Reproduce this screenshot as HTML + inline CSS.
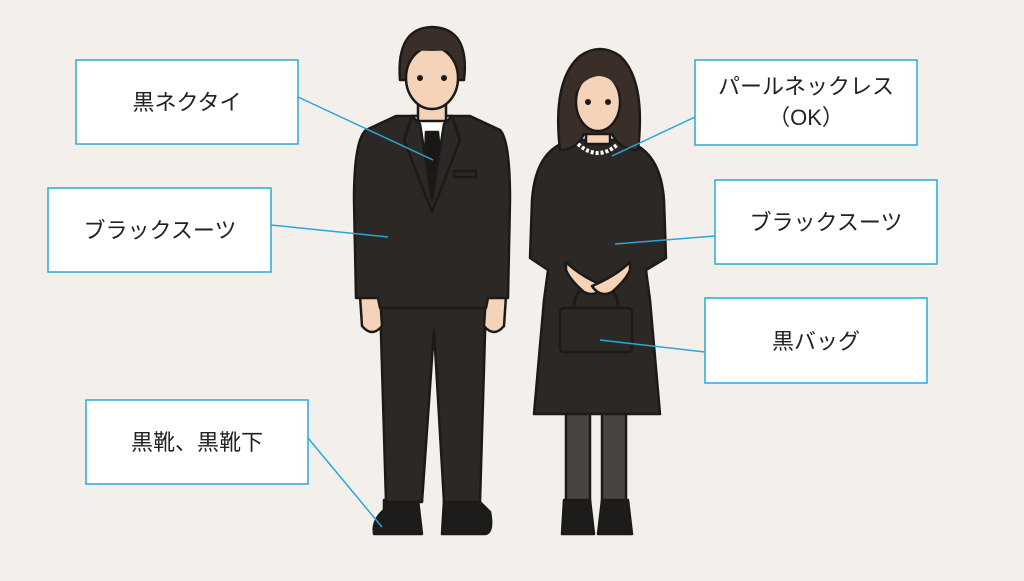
<!DOCTYPE html>
<html><head><meta charset="utf-8"><style>
body{margin:0;width:1024px;height:576px;overflow:hidden;background:#f3f0eb;font-family:"Liberation Sans","Noto Sans CJK JP",sans-serif}
</style></head><body>
<svg width="1024" height="576" viewBox="0 0 1024 576" xmlns="http://www.w3.org/2000/svg">
<rect width="1024" height="576" fill="#f3f0eb"/>
<g stroke="#1c1a18" stroke-width="2.5" stroke-linejoin="round">
<!-- man shoes -->
<path d="M384 500 L418 500 L422 534 L374 534 Q372 520 384 510Z" fill="#1e1c1a"/>
<path d="M444 500 L478 500 L490 512 Q494 534 484 534 L442 534Z" fill="#1e1c1a"/>
<!-- trousers -->
<path d="M380 300 L486 300 L480 502 L444 502 L434 330 L422 502 L386 502Z" fill="#2b2826"/>
<!-- hands -->
<path d="M360 296 L380 296 L382 326 Q372 338 362 326Z" fill="#f4d3b8"/>
<path d="M486 296 L506 296 L504 326 Q494 338 484 326Z" fill="#f4d3b8"/>
<!-- jacket -->
<path d="M396 116 L470 116 L500 130 Q510 140 510 200 L508 298 L488 298 L486 308 L380 308 L378 298 L356 298 L354 200 Q354 140 366 130Z" fill="#2b2826"/>
<path d="M412 116 L452 116 L446 160 L432 190 L418 160Z" fill="#fff"/>
<path d="M426 132 L438 132 L442 175 L432 195 L424 175Z" fill="#1a1817"/>
<path d="M412 116 L404 140 L432 212 L460 140 L452 116 L444 124 L432 200 L420 124Z" fill="#2b2826"/>
<rect x="454" y="171" width="22" height="6" fill="#2b2826"/>
<!-- neck head -->
<rect x="418" y="95" width="28" height="26" fill="#f4d3b8"/>
<path d="M400 80 Q396 28 432 27 Q470 28 464 80Z" fill="#3a2f28"/>
<ellipse cx="432" cy="78" rx="26" ry="31" fill="#f4d3b8"/>
<path d="M404 70 Q402 34 432 32 Q464 34 460 70 Q458 54 452 50 Q432 52 412 50 Q406 56 404 70Z" fill="#3a2f28" stroke="none"/>
<!-- woman legs shoes -->
<rect x="566" y="412" width="24" height="92" fill="#4a4440"/>
<rect x="602" y="412" width="24" height="92" fill="#4a4440"/>
<path d="M564 500 L590 500 L594 534 L562 534Z" fill="#1e1c1a"/>
<path d="M602 500 L628 500 L632 534 L598 534Z" fill="#1e1c1a"/>
<!-- dress -->
<path d="M574 140 L620 140 Q660 146 664 200 L666 258 L646 270 L650 300 L660 414 L534 414 L544 300 L548 270 L530 258 L532 200 Q536 146 574 140Z" fill="#2b2826"/>
<!-- bag -->
<path d="M574 308 Q574 286 596 286 Q618 286 618 308" fill="none"/>
<rect x="560" y="308" width="72" height="44" rx="4" fill="#2b2826"/>
<!-- hands -->
<path d="M566 262 Q580 276 604 286 Q596 298 584 292 Q570 280 566 270Z" fill="#f4d3b8"/>
<path d="M630 262 Q616 276 592 286 Q600 298 612 292 Q626 280 630 270Z" fill="#f4d3b8"/>
<!-- neck head hair -->
<rect x="586" y="118" width="24" height="26" fill="#f4d3b8"/>
<path d="M560 150 Q552 80 580 56 Q600 42 620 56 Q646 80 638 150 Q620 150 612 134 L584 134 Q576 150 560 150Z" fill="#3a2f28"/>
<ellipse cx="598" cy="102" rx="22" ry="29" fill="#f4d3b8"/>
<path d="M576 92 Q578 66 600 66 Q620 68 620 92 Q612 76 598 76 Q584 78 576 92Z" fill="#3a2f28" stroke="none"/>
</g>
<path d="M578 144 Q598 162 618 144" fill="none" stroke="#fff" stroke-width="4" stroke-dasharray="3 2"/>
<g fill="#1c1a18"><circle cx="420" cy="78" r="3"/><circle cx="444" cy="78" r="3"/><circle cx="588" cy="102" r="3"/><circle cx="608" cy="102" r="3"/></g>
<g stroke="#2aa8d8" stroke-width="1.5">
<line x1="298" y1="97" x2="433" y2="160"/>
<line x1="271" y1="225" x2="388" y2="237"/>
<line x1="308" y1="438" x2="382" y2="527"/>
<line x1="695" y1="117" x2="612" y2="156"/>
<line x1="715" y1="236" x2="615" y2="244"/>
<line x1="705" y1="352" x2="600" y2="340"/>
</g>
<g fill="#fff" stroke="#2aa8d8" stroke-width="1.5">
<rect x="76" y="60" width="222" height="84"/>
<rect x="48" y="188" width="223" height="84"/>
<rect x="86" y="400" width="222" height="84"/>
<rect x="695" y="60" width="222" height="85"/>
<rect x="715" y="180" width="222" height="84"/>
<rect x="705" y="298" width="222" height="85"/>
</g>
<g font-size="22" fill="#222" text-anchor="middle" font-family="Liberation Sans, Noto Sans CJK JP, sans-serif">
<text x="187" y="110">黒ネクタイ</text>
<text x="160" y="238">ブラックスーツ</text>
<text x="197" y="450">黒靴、黒靴下</text>
<text x="806" y="94">パールネックレス</text>
<text x="806" y="125">（OK）</text>
<text x="826" y="230">ブラックスーツ</text>
<text x="816" y="349">黒バッグ</text>
</g>
</svg>
</body></html>
